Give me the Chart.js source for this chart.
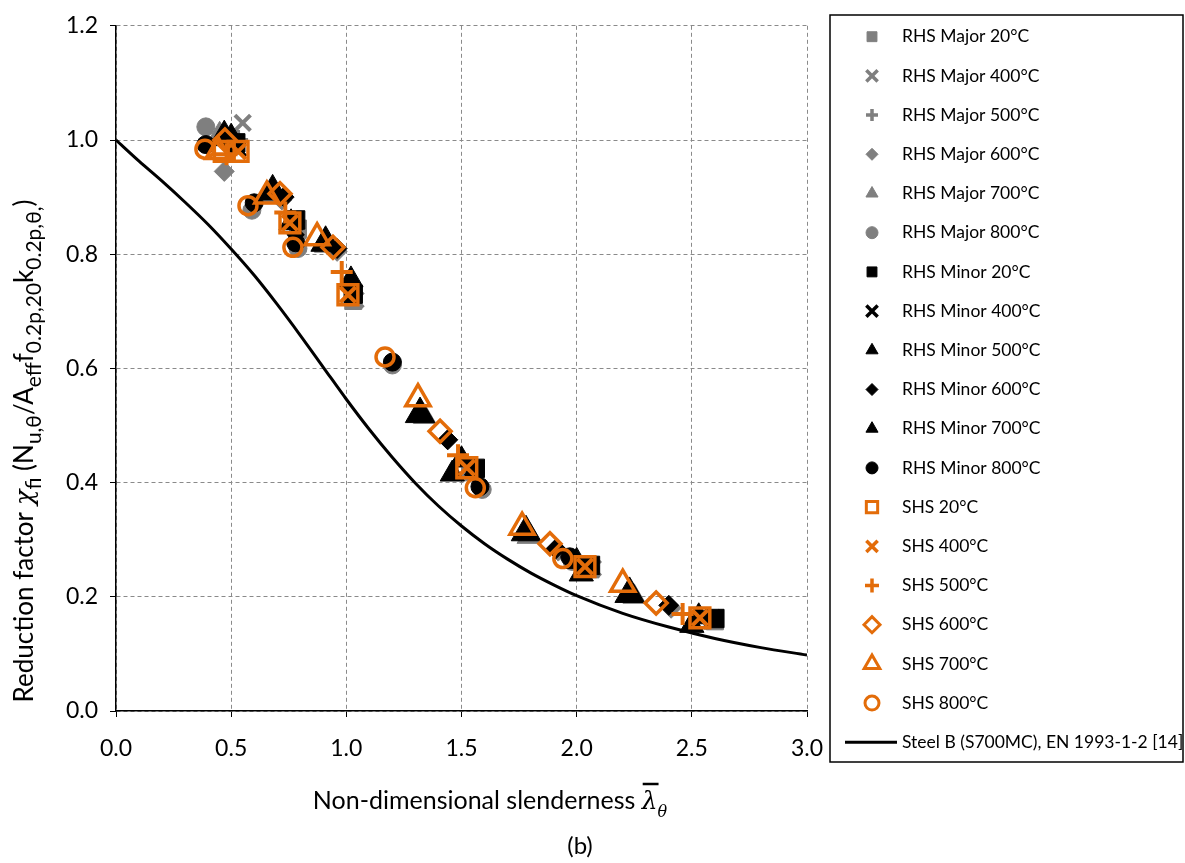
<!DOCTYPE html>
<html lang="en">
  <head>
    <meta charset="UTF-8" />
    <title>Reduction factor vs non-dimensional slenderness</title>
    <script src="https://cdn.jsdelivr.net/npm/chart.js@4"></script>
    <style>
      body {
        margin: 0;
        background: #fff;
      }
      #wrap {
        width: 1185px;
        height: 863px;
      }
    </style>
  </head>
  <body>
    <div id="wrap"><canvas id="chart" width="1185" height="863"></canvas></div>
    <script>
      // axis ranges and tick steps
      const xRange = [0, 3.0];
      const yRange = [0, 1.2];
      const xStep = 0.5;
      const yStep = 0.2;

      // test results, [slenderness, reduction factor]
      const rhsMajor20 = [[0.52, 0.99], [0.79, 0.845], [1.03, 0.718], [1.54, 0.418], [2.06, 0.248], [2.6, 0.157]];
      const rhsMajor400 = [[0.55, 1.03], [0.79, 0.84], [1.04, 0.72], [1.55, 0.42], [2.07, 0.25], [2.6, 0.158]];
      const rhsMajor500 = [[0.53, 1.0], [0.78, 0.85], [1.02, 0.74], [1.51, 0.43], [2.04, 0.25], [2.56, 0.16]];
      const rhsMajor600 = [[0.47, 0.945], [0.72, 0.895], [0.96, 0.805], [1.44, 0.475], [1.92, 0.28], [2.41, 0.18]];
      const rhsMajor700 = [[0.45, 1.01], [0.68, 0.9], [0.91, 0.815], [1.34, 0.515], [1.79, 0.305], [2.25, 0.2]];
      const rhsMajor800 = [[0.39, 1.023], [0.59, 0.877], [0.79, 0.81], [1.2, 0.606], [1.59, 0.388], [1.98, 0.262]];

      const rhsMinor20 = [[0.52, 0.995], [0.78, 0.86], [1.03, 0.73], [1.56, 0.425], [2.06, 0.255], [2.6, 0.162]];
      const rhsMinor400 = [[0.53, 0.985], [0.78, 0.845], [1.03, 0.73], [1.55, 0.425], [2.05, 0.255], [2.59, 0.163]];
      const rhsMinor500 = [[0.5, 1.005], [0.76, 0.855], [1.02, 0.755], [1.5, 0.44], [1.46, 0.415], [2.0, 0.262], [2.02, 0.24], [2.53, 0.165], [2.5, 0.15]];
      const rhsMinor600 = [[0.49, 1.0], [0.73, 0.9], [0.96, 0.81], [1.44, 0.475], [1.91, 0.284], [2.4, 0.185]];
      const rhsMinor700 = [[0.47, 1.005], [0.68, 0.91], [0.91, 0.82], [1.32, 0.52], [1.78, 0.313], [2.23, 0.205]];
      const rhsMinor800 = [[0.39, 0.992], [0.6, 0.89], [0.78, 0.82], [1.2, 0.611], [1.58, 0.393], [1.97, 0.27]];

      const shs20 = [[0.47, 0.98], [0.53, 0.98], [0.755, 0.855], [1.007, 0.729], [1.523, 0.426], [2.036, 0.253], [2.535, 0.163]];
      const shs400 = [[0.53, 0.98], [0.755, 0.855], [1.007, 0.729], [1.523, 0.426], [2.036, 0.253], [2.535, 0.163]];
      const shs500 = [[0.48, 0.975], [0.735, 0.873], [0.98, 0.769], [1.485, 0.448], [2.46, 0.17]];
      const shs600 = [[0.473, 1.0], [0.712, 0.906], [0.942, 0.812], [1.407, 0.49], [1.884, 0.293], [2.345, 0.189]];
      const shs700 = [[0.443, 0.98], [0.655, 0.902], [0.873, 0.829], [1.311, 0.547], [1.763, 0.322], [2.2, 0.222]];
      const shs800 = [[0.386, 0.984], [0.573, 0.885], [0.768, 0.812], [1.168, 0.62], [1.56, 0.391], [1.94, 0.267]];

      // design curve (Steel B, EN 1993-1-2)
      const lambdaCurve = [0, 0.1, 0.2, 0.3, 0.4, 0.5, 0.6, 0.7, 0.8, 0.9, 1.0, 1.1, 1.2, 1.3, 1.4, 1.5, 1.6, 1.7, 1.8, 1.9, 2.0, 2.2, 2.4, 2.6, 2.8, 3.0];
      const chiCurve = [1.0, 0.963, 0.928, 0.891, 0.852, 0.809, 0.763, 0.712, 0.658, 0.602, 0.546, 0.493, 0.444, 0.399, 0.359, 0.324, 0.293, 0.266, 0.242, 0.221, 0.202, 0.171, 0.147, 0.127, 0.111, 0.098];

      const seriesNames = [
        "RHS Major 20°C", "RHS Major 400°C", "RHS Major 500°C", "RHS Major 600°C", "RHS Major 700°C", "RHS Major 800°C",
        "RHS Minor 20°C", "RHS Minor 400°C", "RHS Minor 500°C", "RHS Minor 600°C", "RHS Minor 700°C", "RHS Minor 800°C",
        "SHS 20°C", "SHS 400°C", "SHS 500°C", "SHS 600°C", "SHS 700°C", "SHS 800°C",
      ];
      const curveName = "Steel B (S700MC), EN 1993-1-2 [14]";
      const seriesPoints = [
        rhsMajor20, rhsMajor400, rhsMajor500, rhsMajor600, rhsMajor700, rhsMajor800,
        rhsMinor20, rhsMinor400, rhsMinor500, rhsMinor600, rhsMinor700, rhsMinor800,
        shs20, shs400, shs500, shs600, shs700, shs800,
      ];

      const GREY = "#7f7f7f";
      const BLACK = "#000000";
      const ORANGE = "#e36c09";
      const FONT = "Lato";

      // shape, colour, filled, radius on plot, radius in legend
      const markerStyles = [
        ["rect", GREY, true, 12, 7],
        ["crossRot", GREY, true, 11, 8],
        ["cross", GREY, true, 10, 6],
        ["rectRot", GREY, true, 10, 6],
        ["triangle", GREY, true, 13, 7],
        ["circle", GREY, true, 9, 6],
        ["rect", BLACK, true, 13, 7],
        ["crossRot", BLACK, true, 11, 8],
        ["triangle", BLACK, true, 14, 7],
        ["rectRot", BLACK, true, 10, 6],
        ["triangle", BLACK, true, 17, 7],
        ["circle", BLACK, true, 9, 6],
        ["rect", ORANGE, false, 14, 8],
        ["crossRot", ORANGE, false, 11, 8],
        ["cross", ORANGE, false, 11, 7],
        ["rectRot", ORANGE, false, 11, 8],
        ["triangle", ORANGE, false, 14, 9],
        ["circle", ORANGE, false, 9, 7],
      ];

      function lineWidthFor(shape, filled) {
        if (shape === "cross" || shape === "crossRot") return 4;
        return filled ? 1 : 3.5;
      }

      const datasets = seriesPoints.map((pts, i) => {
        const [shape, color, filled, r] = markerStyles[i];
        return {
          label: seriesNames[i],
          data: pts.map(([x, y]) => ({ x, y })),
          pointStyle: shape,
          pointRadius: r,
          pointHoverRadius: r,
          pointBackgroundColor: filled ? color : "rgba(0,0,0,0)",
          pointBorderColor: color,
          pointBorderWidth: lineWidthFor(shape, filled),
          showLine: false,
          order: 20 - i,
        };
      });
      datasets.push({
        label: curveName,
        data: lambdaCurve.map((x, i) => ({ x, y: chiCurve[i] })),
        showLine: true,
        borderColor: BLACK,
        borderWidth: 3,
        pointRadius: 0,
        pointHoverRadius: 0,
        cubicInterpolationMode: "monotone",
        fill: false,
        order: 100,
      });

      // rich text: n normal, i math italic, s subscript, si italic subscript
      function drawRich(ctx, segs, size, subScale) {
        const sub = Math.round(size * subScale);
        const fonts = {
          n: `${size}px ${FONT}`,
          i: `italic ${size}px "DejaVu Serif"`,
          s: `${sub}px ${FONT}`,
          si: `italic ${sub}px "DejaVu Serif"`,
        };
        let total = 0;
        segs.forEach((s) => {
          ctx.font = fonts[s.f];
          s.w = ctx.measureText(s.t).width;
          total += s.w;
        });
        let x = -total / 2;
        ctx.textAlign = "left";
        ctx.textBaseline = "alphabetic";
        segs.forEach((s) => {
          ctx.font = fonts[s.f];
          const dy = s.f === "s" || s.f === "si" ? size * 0.3 : 0;
          ctx.fillText(s.t, x, dy);
          if (s.over) {
            ctx.fillRect(x + 1, -size * 1.05, s.w, 2.5);
          }
          x += s.w;
        });
      }

      const yTitle = [
        { t: "Reduction factor ", f: "n" },
        { t: "χ", f: "i" },
        { t: "fi", f: "s" },
        { t: " (N", f: "n" },
        { t: "u,θ", f: "s" },
        { t: "/A", f: "n" },
        { t: "eff", f: "s" },
        { t: "f", f: "n" },
        { t: "0.2p,20", f: "s" },
        { t: "k", f: "n" },
        { t: "0.2p,θ,", f: "s" },
        { t: ")", f: "n" },
      ];
      const xTitle = [
        { t: "Non-dimensional slenderness ", f: "n" },
        { t: "λ", f: "i", over: true },
        { t: "θ", f: "si" },
      ];

      const decorations = {
        id: "decorations",
        afterDraw(chart) {
          const { ctx, chartArea } = chart;
          ctx.save();
          ctx.fillStyle = "#000";

          // y axis title
          ctx.save();
          ctx.translate(33, 451);
          ctx.rotate(-Math.PI / 2);
          drawRich(ctx, yTitle, 26, 0.8);
          ctx.restore();

          // x axis title and panel label
          ctx.save();
          ctx.translate(490, 809);
          drawRich(ctx, xTitle, 25, 0.64);
          ctx.restore();
          ctx.font = `24px ${FONT}`;
          ctx.textAlign = "center";
          ctx.fillText("(b)", 580, 854);

          // legend
          const box = { left: chartArea.right + 23, top: 15, right: 1183, bottom: 762 };
          ctx.lineWidth = 1.5;
          ctx.strokeStyle = "#000";
          ctx.strokeRect(box.left, box.top, box.right - box.left, box.bottom - box.top);
          ctx.font = `17.5px ${FONT}`;
          ctx.textAlign = "left";
          ctx.textBaseline = "middle";
          const rowH = 39.2;
          const cx = box.left + 42;
          const tx = box.left + 72;
          seriesNames.forEach((name, i) => {
            const cy = box.top + 21.7 + i * rowH;
            const [shape, color, filled, , lr] = markerStyles[i];
            ctx.save();
            ctx.fillStyle = filled ? color : "#fff";
            ctx.strokeStyle = color;
            ctx.lineWidth = shape.startsWith("cross") ? 3.5 : filled ? 1 : 3;
            Chart.helpers.drawPoint(ctx, { pointStyle: shape, radius: lr, rotation: 0, borderWidth: ctx.lineWidth }, cx, cy);
            ctx.restore();
            ctx.fillText(name, tx, cy);
          });
          const ly = box.top + 21.7 + seriesNames.length * rowH;
          ctx.beginPath();
          ctx.lineWidth = 3;
          ctx.moveTo(box.left + 15, ly);
          ctx.lineTo(box.left + 67, ly);
          ctx.stroke();
          ctx.fillText(curveName, tx, ly);
          ctx.restore();
        },
      };

      Chart.defaults.font.family = FONT;
      Chart.defaults.color = "#000";

      new Chart(document.getElementById("chart"), {
        type: "scatter",
        data: { datasets },
        plugins: [decorations],
        options: {
          responsive: false,
          animation: false,
          layout: { padding: { left: 0, right: 378, top: 18, bottom: 0 } },
          plugins: {
            legend: { display: false },
            tooltip: { enabled: false },
          },
          scales: {
            x: {
              type: "linear",
              min: xRange[0],
              max: xRange[1],
              afterFit(scale) {
                scale.height = 152;
              },
              ticks: {
                stepSize: xStep,
                padding: 18,
                font: { size: 23 },
                callback: (v) => v.toFixed(1),
              },
              grid: { color: "#8a8a8a", lineWidth: 1, tickLength: 6, tickColor: "#000", tickBorderDash: [] },
              border: { color: "#000", width: 1.5, dash: [4, 3] },
            },
            y: {
              min: yRange[0],
              max: yRange[1],
              afterFit(scale) {
                scale.width = 116;
              },
              ticks: {
                stepSize: yStep,
                padding: 12,
                font: { size: 23 },
                callback: (v) => v.toFixed(1),
              },
              grid: { color: "#8a8a8a", lineWidth: 1, tickLength: 6, tickColor: "#000", tickBorderDash: [] },
              border: { color: "#000", width: 1.5, dash: [4, 3] },
            },
          },
        },
      });
    </script>
  </body>
</html>
